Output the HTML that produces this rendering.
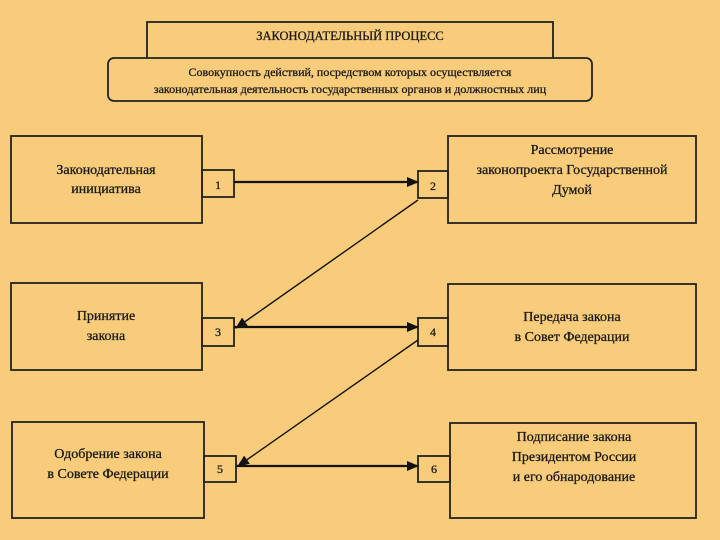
<!DOCTYPE html>
<html><head><meta charset="utf-8"><style>
html,body{margin:0;padding:0;background:#f8cc7a;}
svg{display:block}
text{font-family:"Liberation Serif",serif;fill:#1a1a1a;stroke:#1a1a1a;stroke-width:0.3;}
</style></head><body>
<svg width="720" height="540" viewBox="0 0 720 540" xmlns="http://www.w3.org/2000/svg">
<rect width="720" height="540" fill="#f8cc7a"/>
<defs><marker id="a" markerWidth="12" markerHeight="10" refX="11" refY="5" orient="auto" markerUnits="userSpaceOnUse"><path d="M0,0L12,5L0,10z" fill="#111"/></marker></defs>
<g fill="none" stroke="#222" stroke-width="1.8">
<rect x="147" y="22" width="406" height="40"/>
<rect x="108" y="58" width="484" height="43" rx="6" fill="#f8cc7a"/>
<rect x="11" y="136" width="191" height="87"/>
<rect x="448" y="136" width="248" height="87"/>
<rect x="11" y="283" width="191" height="87"/>
<rect x="448" y="284" width="248" height="86"/>
<rect x="12" y="422" width="192" height="96"/>
<rect x="450" y="423" width="246" height="95"/>
<rect x="202" y="170" width="32" height="27"/>
<rect x="418" y="171" width="30" height="27"/>
<rect x="202" y="318" width="32" height="28"/>
<rect x="418" y="318" width="30" height="28"/>
<rect x="204" y="456" width="32" height="26"/>
<rect x="418" y="456" width="32" height="26"/>
</g>
<g stroke="#111" stroke-width="1.4" fill="none">
<line x1="234" y1="182" x2="418" y2="182" stroke-width="2.2" marker-end="url(#a)"/>
<line x1="418" y1="200" x2="236" y2="328" marker-end="url(#a)"/>
<line x1="234" y1="327" x2="418" y2="327" stroke-width="2.2" marker-end="url(#a)"/>
<line x1="418" y1="340" x2="238" y2="466" marker-end="url(#a)"/>
<line x1="236" y1="466" x2="418" y2="466" stroke-width="2.2" marker-end="url(#a)"/>
</g>
<g font-size="14" text-anchor="middle">
<text x="350" y="40" font-size="12.5">ЗАКОНОДАТЕЛЬНЫЙ ПРОЦЕСС</text>
<text x="350" y="76" font-size="12">Совокупность действий, посредством которых осуществляется</text>
<text x="350" y="93" font-size="12">законодательная деятельность государственных органов и должностных лиц</text>
<text x="106" y="174">Законодательная</text>
<text x="106" y="193">инициатива</text>
<text x="572" y="154">Рассмотрение</text>
<text x="572" y="174">законопроекта Государственной</text>
<text x="572" y="194">Думой</text>
<text x="106" y="320">Принятие</text>
<text x="106" y="340">закона</text>
<text x="572" y="321">Передача закона</text>
<text x="572" y="341">в Совет Федерации</text>
<text x="108" y="458">Одобрение закона</text>
<text x="108" y="478">в Совете Федерации</text>
<text x="574" y="441">Подписание закона</text>
<text x="574" y="461">Президентом России</text>
<text x="574" y="481">и его обнародование</text>
<text x="218" y="189" font-size="12">1</text>
<text x="433" y="190" font-size="12">2</text>
<text x="218" y="336" font-size="12">3</text>
<text x="433" y="336" font-size="12">4</text>
<text x="220" y="473" font-size="12">5</text>
<text x="434" y="473" font-size="12">6</text>
</g>
</svg>
</body></html>
